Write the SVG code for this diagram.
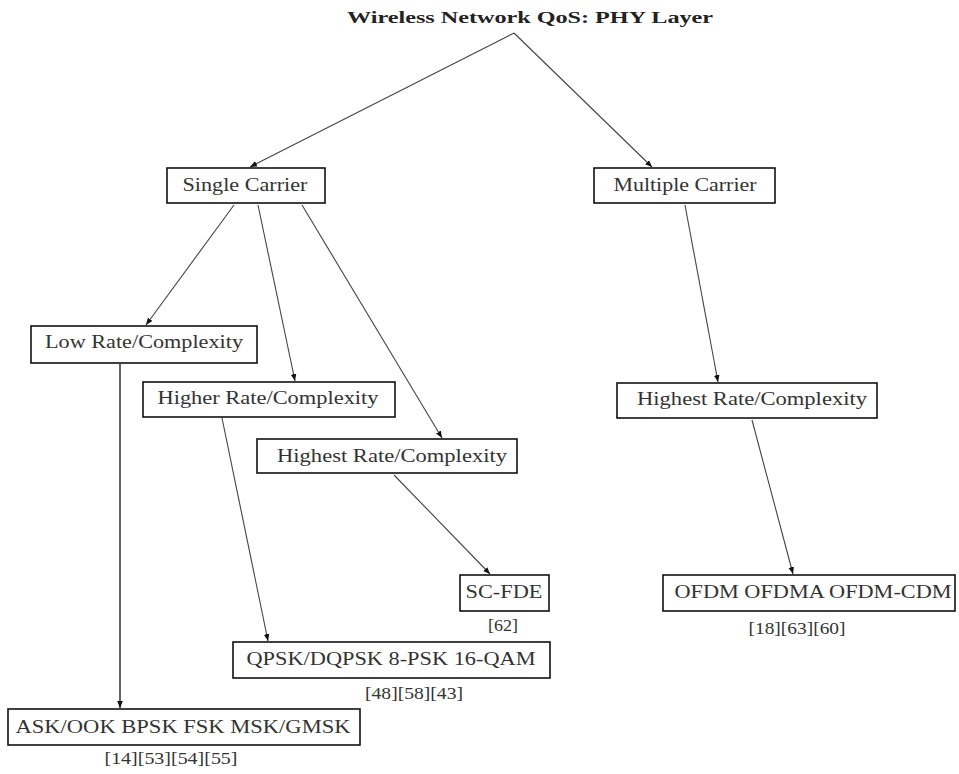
<svg xmlns="http://www.w3.org/2000/svg" width="959" height="774" viewBox="0 0 959 774">
<style>
.box{fill:#fff;stroke:#111;stroke-width:1.6}
.lbl{font-family:"Liberation Serif","DejaVu Serif",serif;font-size:18px;fill:#333;text-anchor:middle}
.ref{font-family:"Liberation Serif","DejaVu Serif",serif;font-size:17px;fill:#333;text-anchor:middle}
.ttl{font-family:"Liberation Serif","DejaVu Serif",serif;font-size:17px;font-weight:bold;fill:#222;text-anchor:middle}
.edge{stroke:#444;stroke-width:1.1;fill:none;marker-end:url(#ah)}
.vert{stroke:#222;stroke-width:1.4;fill:none;marker-end:url(#ah)}
</style>
<defs>
<marker id="ah" viewBox="0 0 10 10" refX="10" refY="5" markerWidth="7" markerHeight="7" markerUnits="userSpaceOnUse" orient="auto">
<path d="M0,1 L10,5 L0,9 Z" fill="#111"/>
</marker>
</defs>
<rect width="959" height="774" fill="#fff"/>
<g id="connectors">
<line class="edge" x1="514" y1="33" x2="250" y2="167"/>
<line class="edge" x1="514" y1="33" x2="652" y2="167"/>
<line class="edge" x1="234" y1="205" x2="146" y2="325"/>
<line class="edge" x1="258" y1="205" x2="295" y2="381"/>
<line class="edge" x1="302" y1="205" x2="442" y2="438"/>
<line class="vert" x1="120" y1="364" x2="120" y2="708"/>
<line class="edge" x1="222" y1="418" x2="268" y2="641"/>
<line class="edge" x1="394" y1="475" x2="490" y2="574"/>
<line class="edge" x1="685" y1="205" x2="718" y2="382"/>
<line class="edge" x1="752" y1="420" x2="793" y2="574"/>
</g>
<g id="title">
<text class="ttl" x="530" y="23" textLength="366" lengthAdjust="spacingAndGlyphs">Wireless Network QoS: PHY Layer</text>
</g>
<g id="single-carrier">
<rect class="box" x="167" y="168" width="158" height="35"/>
<text class="lbl" x="245" y="191" textLength="125" lengthAdjust="spacingAndGlyphs">Single Carrier</text>
</g>
<g id="multiple-carrier">
<rect class="box" x="594" y="168" width="181" height="35"/>
<text class="lbl" x="685" y="191" textLength="143" lengthAdjust="spacingAndGlyphs">Multiple Carrier</text>
</g>
<g id="low-rate">
<rect class="box" x="31" y="326" width="226" height="37"/>
<text class="lbl" x="144" y="348" textLength="198" lengthAdjust="spacingAndGlyphs">Low Rate/Complexity</text>
</g>
<g id="higher-rate">
<rect class="box" x="143" y="382" width="252" height="35"/>
<text class="lbl" x="268" y="404" textLength="221" lengthAdjust="spacingAndGlyphs">Higher Rate/Complexity</text>
</g>
<g id="highest-rate-sc">
<rect class="box" x="257" y="439" width="260" height="34"/>
<text class="lbl" x="392" y="462" textLength="230" lengthAdjust="spacingAndGlyphs">Highest Rate/Complexity</text>
</g>
<g id="highest-rate-mc">
<rect class="box" x="617" y="383" width="260" height="35"/>
<text class="lbl" x="752" y="405" textLength="230" lengthAdjust="spacingAndGlyphs">Highest Rate/Complexity</text>
</g>
<g id="sc-fde">
<rect class="box" x="460" y="575" width="89" height="36"/>
<text class="lbl" x="504" y="598" textLength="77" lengthAdjust="spacingAndGlyphs">SC-FDE</text>
<text class="ref" x="503" y="631" textLength="30" lengthAdjust="spacingAndGlyphs">[62]</text>
</g>
<g id="ofdm">
<rect class="box" x="663" y="575" width="292" height="36"/>
<text class="lbl" x="813" y="598" textLength="277" lengthAdjust="spacingAndGlyphs">OFDM OFDMA OFDM-CDM</text>
<text class="ref" x="797" y="634" textLength="97" lengthAdjust="spacingAndGlyphs">[18][63][60]</text>
</g>
<g id="qpsk">
<rect class="box" x="233" y="642" width="317" height="36"/>
<text class="lbl" x="391" y="665" textLength="289" lengthAdjust="spacingAndGlyphs">QPSK/DQPSK 8-PSK 16-QAM</text>
<text class="ref" x="414" y="699" textLength="98" lengthAdjust="spacingAndGlyphs">[48][58][43]</text>
</g>
<g id="ask">
<rect class="box" x="8" y="709" width="352" height="36"/>
<text class="lbl" x="183" y="733" textLength="335" lengthAdjust="spacingAndGlyphs">ASK/OOK BPSK FSK MSK/GMSK</text>
<text class="ref" x="171" y="764" textLength="133" lengthAdjust="spacingAndGlyphs">[14][53][54][55]</text>
</g>
</svg>
